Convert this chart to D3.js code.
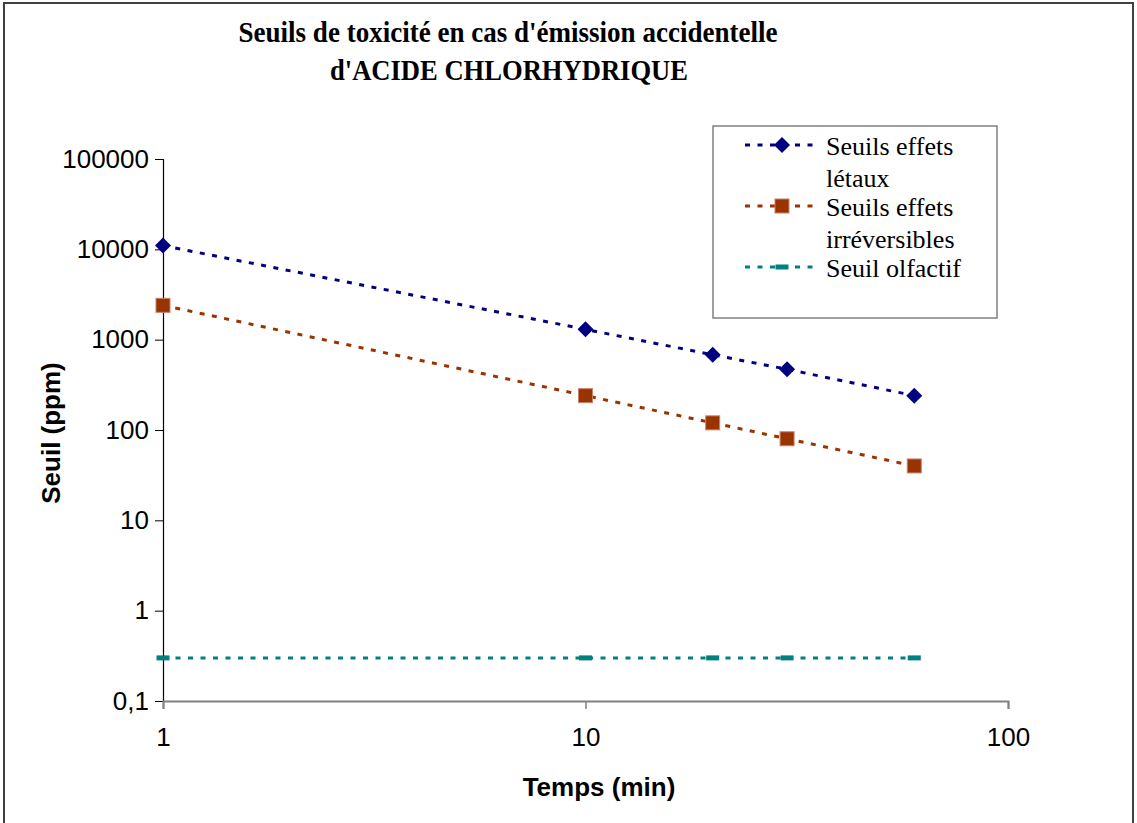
<!DOCTYPE html>
<html>
<head>
<meta charset="utf-8">
<script src="https://cdn.jsdelivr.net/npm/d3@7"></script>
<style>
  body { margin: 0; background: #fff; }
  svg { display: block; }
</style>
</head>
<body>
<div id="chart"></div>
<script>
// data
var temps = [1, 10, 20, 30, 60];
var letaux = [11000, 1300, 680, 470, 240];
var irreversibles = [2400, 240, 120, 80, 40];
var olfactif = [0.3, 0.3, 0.3, 0.3, 0.3];

var xTicks = [1, 10, 100];
var yTicks = [0.1, 1, 10, 100, 1000, 10000, 100000];
var yTickLabels = ["0,1", "1", "10", "100", "1000", "10000", "100000"];

var titleLines = ["Seuils de toxicité en cas d'émission accidentelle", "d'ACIDE CHLORHYDRIQUE"];
var seriesNames = [["Seuils effets", "létaux"], ["Seuils effets", "irréversibles"], ["Seuil olfactif"]];

var width = 1137, height = 823;
var plot = {left: 163, right: 1008, top: 159, bottom: 701};

var svg = d3.select("#chart").append("svg")
    .attr("width", width)
    .attr("height", height);

// outer frame (bottom edge is cut off in the original)
svg.append("rect")
    .attr("x", 4).attr("y", 3)
    .attr("width", 1129).attr("height", 840)
    .attr("fill", "none")
    .attr("stroke", "#404040")
    .attr("stroke-width", 2);

var x = d3.scaleLog().domain([1, 100]).range([plot.left, plot.right]);
var y = d3.scaleLog().domain([0.1, 100000]).range([plot.bottom, plot.top]);

// title
svg.append("text")
    .attr("x", 508).attr("y", 42)
    .attr("text-anchor", "middle")
    .attr("textLength", 539)
    .attr("lengthAdjust", "spacingAndGlyphs")
    .style("font-family", "'Liberation Serif', 'Times New Roman', serif")
    .style("font-weight", "bold")
    .style("font-size", "29px")
    .text(titleLines[0]);
svg.append("text")
    .attr("x", 509).attr("y", 80)
    .attr("text-anchor", "middle")
    .attr("textLength", 358)
    .attr("lengthAdjust", "spacingAndGlyphs")
    .style("font-family", "'Liberation Serif', 'Times New Roman', serif")
    .style("font-weight", "bold")
    .style("font-size", "29px")
    .text(titleLines[1]);

// Y axis
var yAxis = svg.append("g")
    .attr("transform", "translate(" + plot.left + ",0)")
    .call(d3.axisLeft(y)
        .tickValues(yTicks)
        .tickSize(8)
        .tickPadding(6)
        .tickFormat(function(d, i) { return yTickLabels[i]; }));
yAxis.select(".domain").attr("stroke", "#000").attr("stroke-width", 1.2);
yAxis.selectAll(".tick line").attr("stroke", "#000");
yAxis.selectAll(".tick text")
    .style("font-family", "'Liberation Sans', Arial, sans-serif")
    .style("font-size", "26px")
    .attr("fill", "#000");

// X axis
var xAxis = svg.append("g")
    .attr("transform", "translate(0," + plot.bottom + ")")
    .call(d3.axisBottom(x)
        .tickValues(xTicks)
        .tickSize(8)
        .tickPadding(19)
        .tickFormat(d3.format("d")));
xAxis.select(".domain").attr("stroke", "#808080").attr("stroke-width", 2);
xAxis.selectAll(".tick line").attr("stroke", "#808080").attr("stroke-width", 1.5);
xAxis.selectAll(".tick text")
    .style("font-family", "'Liberation Sans', Arial, sans-serif")
    .style("font-size", "26px")
    .attr("fill", "#000");

// axis titles
svg.append("text")
    .attr("x", 599).attr("y", 796)
    .attr("text-anchor", "middle")
    .style("font-family", "'Liberation Sans', Arial, sans-serif")
    .style("font-weight", "bold")
    .style("font-size", "26px")
    .text("Temps (min)");
svg.append("text")
    .attr("transform", "translate(60,433) rotate(-90)")
    .attr("text-anchor", "middle")
    .style("font-family", "'Liberation Sans', Arial, sans-serif")
    .style("font-weight", "bold")
    .style("font-size", "26px")
    .text("Seuil (ppm)");

// series
var series = [
  {values: letaux, color: "#000080", marker: "diamond"},
  {values: irreversibles, color: "#993300", marker: "square"},
  {values: olfactif, color: "#008080", marker: "dash"}
];

var line = d3.line()
    .x(function(d) { return x(d[0]); })
    .y(function(d) { return y(d[1]); });

function drawMarker(g, type, color) {
  if (type == "diamond") {
    g.append("path")
        .attr("d", "M0,-8L8,0L0,8L-8,0Z")
        .attr("fill", color);
  } else if (type == "square") {
    g.append("rect")
        .attr("x", -7).attr("y", -7)
        .attr("width", 14).attr("height", 14)
        .attr("fill", color)
        .attr("stroke", "#c8826a")
        .attr("stroke-width", 1);
  } else {
    g.append("rect")
        .attr("x", -6.5).attr("y", -2.5)
        .attr("width", 13).attr("height", 5)
        .attr("fill", color);
  }
}

series.forEach(function(s) {
  var pts = temps.map(function(t, i) { return [t, s.values[i]]; });

  svg.append("path")
      .datum(pts)
      .attr("fill", "none")
      .attr("stroke", s.color)
      .attr("stroke-width", 3)
      .attr("stroke-dasharray", "5,7.5")
      .attr("d", line);

  pts.forEach(function(p) {
    var g = svg.append("g")
        .attr("transform", "translate(" + x(p[0]) + "," + y(p[1]) + ")");
    drawMarker(g, s.marker, s.color);
  });
});

// legend
var legend = svg.append("g");
legend.append("rect")
    .attr("x", 713).attr("y", 126)
    .attr("width", 284).attr("height", 192)
    .attr("fill", "#fff")
    .attr("stroke", "#808080")
    .attr("stroke-width", 1.5);

var legendRows = [145, 206, 267];
series.forEach(function(s, i) {
  var ly = legendRows[i];
  legend.append("line")
      .attr("x1", 745).attr("x2", 820)
      .attr("y1", ly).attr("y2", ly)
      .attr("stroke", s.color)
      .attr("stroke-width", 3)
      .attr("stroke-dasharray", "5,7.5");
  var g = legend.append("g").attr("transform", "translate(782," + ly + ")");
  drawMarker(g, s.marker, s.color);
  seriesNames[i].forEach(function(txt, j) {
    legend.append("text")
        .attr("x", 826)
        .attr("y", ly + 10 + j * 32)
        .style("font-family", "'Liberation Serif', 'Times New Roman', serif")
        .style("font-size", "26px")
        .attr("fill", "#000")
        .text(txt);
  });
});
</script>
</body>
</html>
